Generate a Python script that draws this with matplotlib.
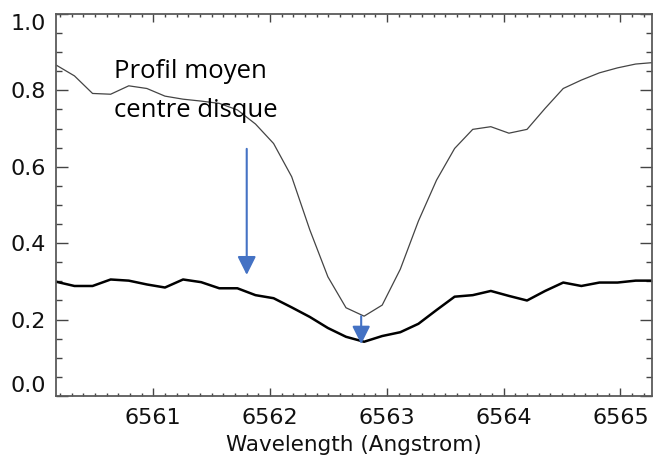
import matplotlib
matplotlib.use('Agg')
import matplotlib.pyplot as plt
from matplotlib.ticker import MultipleLocator

# wavelength grid (Angstrom)
wavelength = [6560.17, 6560.325, 6560.48, 6560.635, 6560.79, 6560.945, 6561.10,
              6561.255, 6561.41, 6561.565, 6561.72, 6561.875, 6562.03, 6562.185,
              6562.34, 6562.495, 6562.65, 6562.805, 6562.96, 6563.115, 6563.27,
              6563.425, 6563.58, 6563.735, 6563.89, 6564.045, 6564.20, 6564.355,
              6564.51, 6564.665, 6564.82, 6564.975, 6565.13, 6565.285]

# mean profile, disk centre (thin line)
profil_centre = [0.866, 0.838, 0.792, 0.790, 0.812, 0.805, 0.785, 0.777, 0.772,
                 0.766, 0.749, 0.712, 0.661, 0.574, 0.435, 0.312, 0.231, 0.209,
                 0.238, 0.332, 0.458, 0.565, 0.648, 0.698, 0.705, 0.688, 0.698,
                 0.753, 0.805, 0.827, 0.846, 0.859, 0.869, 0.873]

# lower profile (thick line)
profil_bas = [0.299, 0.288, 0.288, 0.305, 0.302, 0.292, 0.284, 0.305, 0.298,
              0.282, 0.282, 0.264, 0.256, 0.232, 0.207, 0.178, 0.155, 0.142,
              0.157, 0.167, 0.189, 0.225, 0.260, 0.264, 0.275, 0.262, 0.250,
              0.275, 0.297, 0.288, 0.297, 0.297, 0.302, 0.302]

x_ticks = [6561, 6562, 6563, 6564, 6565]
y_ticks = [0.0, 0.2, 0.4, 0.6, 0.8, 1.0]
annot_lines = ['Profil moyen', 'centre disque']

W, H = 653, 461
fig = plt.figure(figsize=(W / 100, H / 100), dpi=100)
ax = fig.add_axes([56 / W, 1 - 396 / H, 596 / W, 382 / H])

ax.plot(wavelength, profil_centre, color='#444444', lw=0.9)
ax.plot(wavelength, profil_bas, color='black', lw=1.8)

ax.set_xlim(6560.167, 6565.27)
ax.set_ylim(0, 1.0)
ax.set_xticks(x_ticks)
ax.set_yticks(y_ticks)
ax.set_yticklabels([f'{v:.1f}' for v in y_ticks])
ax.xaxis.set_minor_locator(MultipleLocator(0.1))
ax.yaxis.set_minor_locator(MultipleLocator(0.05))

for s in ax.spines.values():
    s.set_color('#5a5a5a')
    s.set_linewidth(1.3)

ax.tick_params(axis='both', which='both', direction='in', colors='#444444',
               labelcolor='#111111', labelsize=16, width=1.0)
ax.tick_params(axis='x', which='major', length=5.5, top=True, pad=9)
ax.tick_params(axis='x', which='minor', length=2.5, top=True)
ax.tick_params(axis='y', which='major', length=8.5, right=True, pad=7)
ax.tick_params(axis='y', which='minor', length=4.5, right=True)

# IDL keeps the end labels inside the plot box
ylabels = ax.get_yticklabels()
ylabels[0].set_va('bottom')
ylabels[-1].set_va('top')

ax.set_xlabel('Wavelength (Angstrom)', fontsize=15.5, color='#111111', labelpad=5)

ax.text(6560.664, 0.832, annot_lines[0], fontsize=18.5, family='Open Sans',
        va='baseline', ha='left')
ax.text(6560.664, 0.730, annot_lines[1], fontsize=18.5, family='Open Sans',
        va='baseline', ha='left')

blue = '#4472C4'
ax.annotate('', xy=(6561.80, 0.317), xytext=(6561.80, 0.647),
            arrowprops=dict(arrowstyle='-|>', color=blue, lw=1.5,
                            mutation_scale=28, shrinkA=0, shrinkB=0))
ax.annotate('', xy=(6562.78, 0.136), xytext=(6562.78, 0.209),
            arrowprops=dict(arrowstyle='-|>', color=blue, lw=1.5,
                            mutation_scale=27, shrinkA=0, shrinkB=0))

fig.savefig('out.png', dpi=100)
